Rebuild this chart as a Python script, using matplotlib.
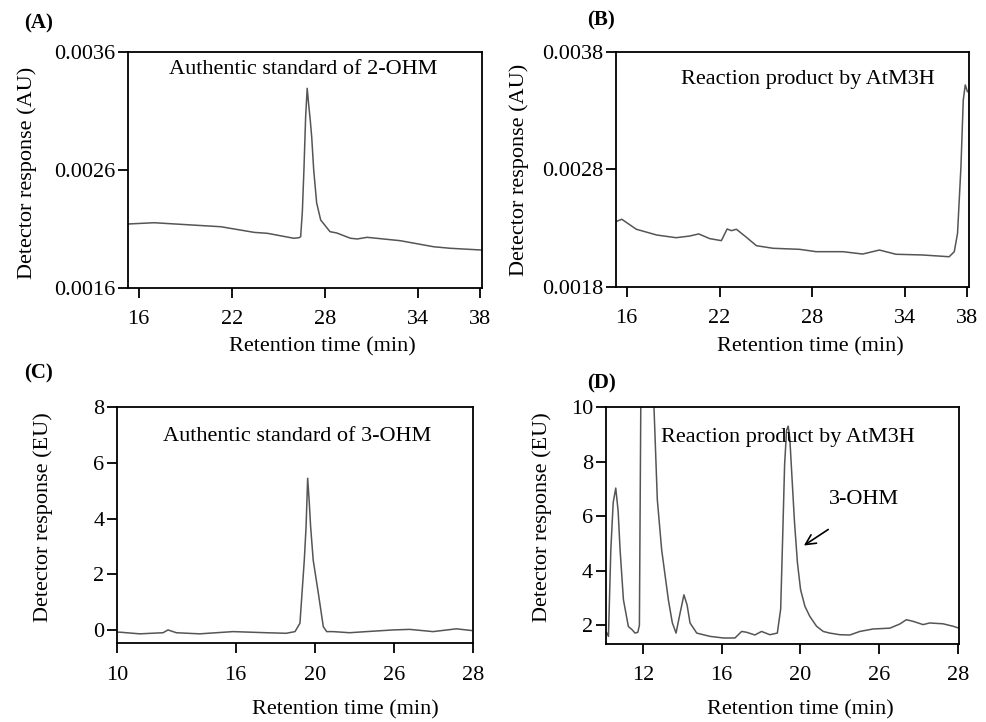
import matplotlib
matplotlib.use('Agg')
import matplotlib.pyplot as plt

plt.rcParams['font.family'] = ['Liberation Serif', 'DejaVu Serif']
plt.rcParams['font.size'] = 16

# Panel A: authentic standard of 2-OHM (AU)
time_a = [15.3, 17.0, 21.3, 23.45, 24.3, 26.0, 26.34, 26.44, 26.55, 26.65, 26.76, 26.86,
          26.96, 27.06, 27.15, 27.28, 27.47, 27.73, 28.33, 28.76, 29.65, 30.08, 30.72,
          32.85, 35.0, 36.06, 38.1]
resp_a = [0.002141, 0.002152, 0.002118, 0.00207, 0.002062, 0.00202, 0.002025, 0.002033,
          0.00225, 0.0026, 0.00305, 0.003294, 0.00315, 0.00302, 0.002883, 0.0026, 0.00232,
          0.002175, 0.002076, 0.002065, 0.00202, 0.002014, 0.002028, 0.0019995, 0.001948,
          0.001935, 0.00192]

# Panel B: reaction product by AtM3H (AU)
time_b = [15.3, 15.69, 16.63, 17.94, 19.2, 20.06, 20.66, 21.37, 22.12, 22.49, 22.77, 23.09,
          23.74, 24.38, 25.45, 27.17, 28.24, 29.96, 31.24, 32.32, 33.39, 35.1, 36.82, 37.15,
          37.36, 37.58, 37.73, 37.86, 38.0]
resp_b = [0.002353, 0.002374, 0.002289, 0.00224, 0.002217, 0.002231, 0.002249, 0.002209,
          0.002192, 0.002291, 0.002277, 0.002289, 0.00222, 0.002149, 0.002127, 0.002118,
          0.002098, 0.002098, 0.002078, 0.002112, 0.002076, 0.00207, 0.002055, 0.002098,
          0.002254, 0.002821, 0.003389, 0.003517, 0.00346]

# Panel C: authentic standard of 3-OHM (EU)
time_c = [10.0, 10.13, 11.15, 12.33, 12.58, 13.0, 14.18, 15.87, 17.55, 18.56, 19.0, 19.25,
          19.47, 19.56, 19.64, 19.72, 19.79, 19.92, 20.18, 20.43, 20.6, 20.92, 21.76,
          22.61, 23.96, 24.8, 25.98, 27.16, 27.92]
resp_c = [-0.08, -0.08, -0.14, -0.1, 0.0, -0.1, -0.14, -0.06, -0.1, -0.12, -0.06, 0.24,
          2.51, 3.71, 5.45, 4.6, 3.71, 2.51, 1.32, 0.12, -0.06, -0.06, -0.1,
          -0.06, 0.0, 0.02, -0.06, 0.04, -0.02]

# Panel D: reaction product by AtM3H (EU)
time_d = [10.18, 10.26, 10.38, 10.5, 10.63, 10.75, 10.85, 11.02, 11.27, 11.45, 11.61, 11.75,
          11.83, 11.9, 12.2, 12.57, 12.74, 12.96, 13.3, 13.5, 13.69, 13.86, 14.09, 14.25,
          14.4, 14.74, 15.41, 16.09, 16.68, 17.02, 17.27, 17.69, 18.03, 18.45, 18.83, 19.0,
          19.1, 19.2, 19.3, 19.38, 19.46, 19.56, 19.7, 19.85, 20.01, 20.23, 20.48, 20.82,
          21.16, 21.49, 22.0, 22.51, 23.02, 23.69, 24.54, 25.04, 25.38, 25.72, 26.23, 26.56,
          27.24, 27.75, 28.05]
resp_d = [1.72, 1.6, 4.77, 6.5, 7.03, 6.2, 4.77, 2.94, 1.96, 1.85, 1.72, 1.75,
          2.0, 10.0, 16.0, 10.0, 6.6, 4.77, 2.94, 2.1, 1.72, 2.33, 3.12, 2.75,
          2.09, 1.72, 1.6, 1.54, 1.54, 1.78, 1.75, 1.65, 1.78, 1.66, 1.72, 2.6,
          5.2, 7.9, 9.15, 9.3, 8.9, 7.6, 5.8, 4.3, 3.31, 2.7, 2.33, 1.97,
          1.78, 1.72, 1.66, 1.65, 1.78, 1.87, 1.9, 2.05, 2.21, 2.15, 2.03, 2.09,
          2.06, 1.97, 1.9]

xticks_top = [16, 22, 28, 34, 38]
yticks_a = [0.0016, 0.0026, 0.0036]
yticks_b = [0.0018, 0.0028, 0.0038]
xticks_c = [10, 16, 20, 24, 28]
xticklabels_c = ['10', '16', '20', '26', '28']
xticks_d = [12, 16, 20, 24, 28]
xticklabels_d = ['12', '16', '20', '26', '28']
yticks_c = [0, 2, 4, 6, 8]
yticks_d = [2, 4, 6, 8, 10]

W, H = 987, 722
fig = plt.figure(figsize=(W / 100, H / 100), dpi=100)


def add_axes(l, t, r, b):
    return fig.add_axes([l / W, 1 - b / H, (r - l) / W, (b - t) / H])


def ftext(x, y, s, **kw):
    fig.text(x / W, 1 - y / H, s, ha='center', va='center', **kw)


def style(ax):
    for sp in ax.spines.values():
        sp.set_linewidth(1.3)
    ax.tick_params(direction='out', length=7, width=1.3)
    ax.tick_params(axis='x', pad=9)
    ax.tick_params(axis='y', pad=2)


line_kw = dict(color='#555555', lw=1.1)

axA = add_axes(127.7, 52.3, 481.7, 287.7)
axA.plot(time_a, resp_a, **line_kw)
axA.set_xlim(15.3, 38.1)
axA.set_ylim(0.0016, 0.0036)
axA.set_xticks(xticks_top)
axA.set_yticks(yticks_a)
axA.set_yticklabels([f'{v:.4f}' for v in yticks_a])
axA.text(0.495, 0.925, 'Authentic standard of 2-OHM', transform=axA.transAxes,
         ha='center', va='center')
style(axA)

axB = add_axes(615.7, 51.7, 969, 286.7)
axB.plot(time_b, resp_b, **line_kw)
axB.set_xlim(15.3, 38.1)
axB.set_ylim(0.0018, 0.0038)
axB.set_xticks(xticks_top)
axB.set_yticks(yticks_b)
axB.set_yticklabels([f'{v:.4f}' for v in yticks_b])
axB.text(0.544, 0.88, 'Reaction product by AtM3H', transform=axB.transAxes,
         ha='center', va='center')
style(axB)

axC = add_axes(117, 407.3, 473, 643.3)
axC.plot(time_c, resp_c, **line_kw)
axC.set_xlim(10, 28)
axC.set_ylim(-0.48, 8)
axC.set_xticks(xticks_c)
axC.set_xticklabels(xticklabels_c)
axC.set_yticks(yticks_c)
axC.text(0.506, 0.878, 'Authentic standard of 3-OHM', transform=axC.transAxes,
         ha='center', va='center')
style(axC)

axD = add_axes(605.7, 407, 959, 644)
axD.plot(time_d, resp_d, **line_kw)
axD.set_xlim(10.12, 28.05)
axD.set_ylim(1.32, 10)
axD.set_xticks(xticks_d)
axD.set_xticklabels(xticklabels_d)
axD.set_yticks(yticks_d)
axD.text(0.516, 0.873, 'Reaction product by AtM3H', transform=axD.transAxes,
         ha='center', va='center')
axD.annotate('', xy=(20.06, 4.87), xytext=(21.53, 5.57),
             arrowprops=dict(arrowstyle='->', color='black', lw=1.2, mutation_scale=18))
axD.text(23.22, 6.63, '3-OHM', ha='center', va='center')
style(axD)

# panel letters
ftext(39, 23, '(A)', fontsize=15, fontweight='bold')
ftext(601, 20, '(B)', fontsize=15, fontweight='bold')
ftext(39, 373, '(C)', fontsize=15, fontweight='bold')
ftext(601, 383, '(D)', fontsize=15, fontweight='bold')

# axis labels
ftext(322, 347, 'Retention time (min)')
ftext(810, 347, 'Retention time (min)')
ftext(345, 710, 'Retention time (min)')
ftext(800, 710, 'Retention time (min)')
ftext(27, 173, 'Detector response (AU)', rotation=90)
ftext(519, 170, 'Detector response (AU)', rotation=90)
ftext(43, 517, 'Detector response (EU)', rotation=90)
ftext(542, 517, 'Detector response (EU)', rotation=90)

fig.savefig('out.png', dpi=100)
